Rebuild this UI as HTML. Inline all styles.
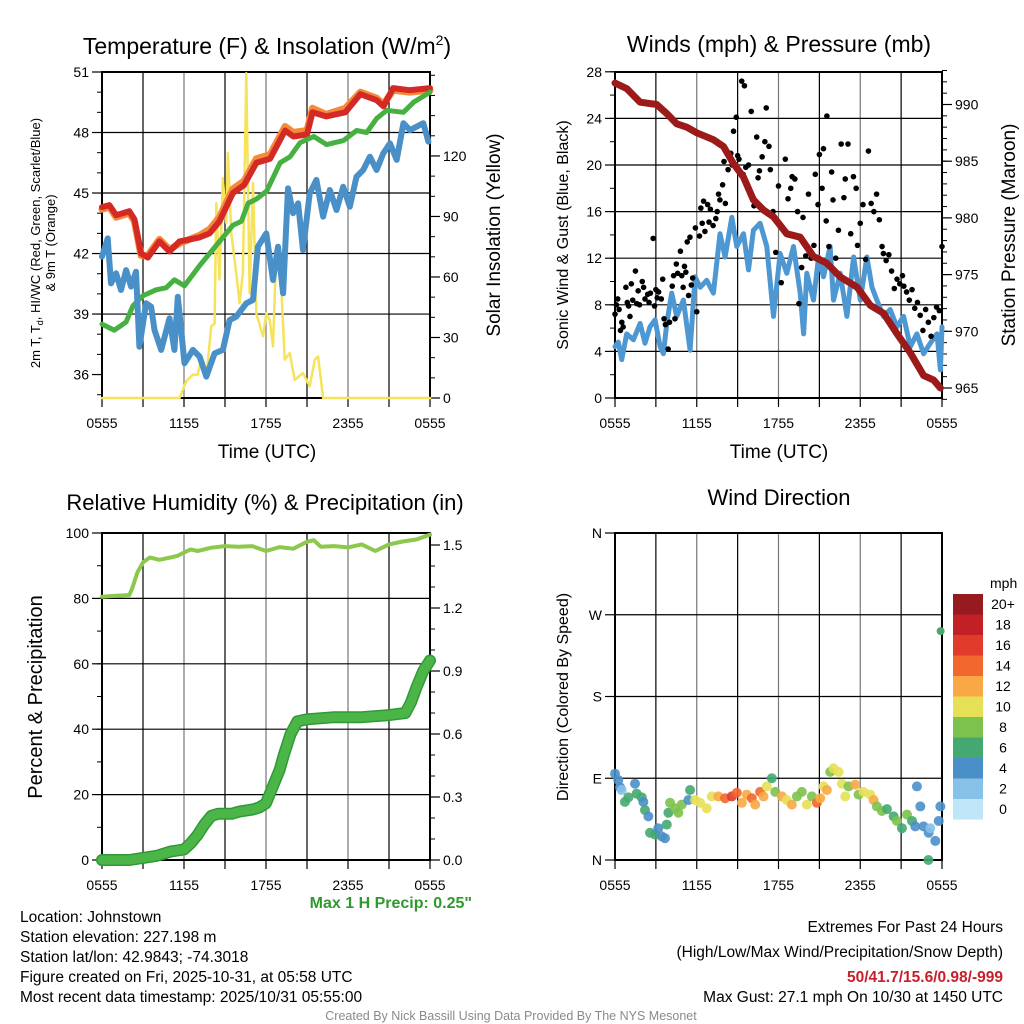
<!DOCTYPE html>
<html><head><meta charset="utf-8">
<style>
html,body{margin:0;padding:0;background:#fff;}
svg{display:block;font-family:"Liberation Sans",Arial,sans-serif;}
</style></head>
<body>
<svg id="fig" width="1024" height="1024" viewBox="0 0 1024 1024" xmlns="http://www.w3.org/2000/svg">
<rect x="0" y="0" width="1024" height="1024" fill="#fff"/>
<!-- titles -->
<text x="267" y="54" font-size="23" text-anchor="middle">Temperature (F) &amp; Insolation (W/m<tspan font-size="14" dy="-9">2</tspan><tspan dy="9">)</tspan></text>
<text x="779" y="52" font-size="23" text-anchor="middle">Winds (mph) &amp; Pressure (mb)</text>
<text x="265" y="510" font-size="22" text-anchor="middle">Relative Humidity (%) &amp; Precipitation (in)</text>
<text x="779" y="505" font-size="22" text-anchor="middle">Wind Direction</text>
<!-- axis titles -->
<text x="267" y="458" font-size="19" text-anchor="middle">Time (UTC)</text>
<text x="779" y="458" font-size="19" text-anchor="middle">Time (UTC)</text>
<text transform="translate(40,243) rotate(-90)" font-size="13" text-anchor="middle"><tspan x="0" y="0">2m T, T<tspan font-size="9" dy="3">d</tspan><tspan dy="-3">, HI/WC (Red, Green, Scarlet/Blue)</tspan></tspan><tspan x="0" y="15">&amp; 9m T (Orange)</tspan></text>
<text transform="translate(500,235) rotate(-90)" font-size="19" text-anchor="middle">Solar Insolation (Yellow)</text>
<text transform="translate(568,235) rotate(-90)" font-size="16" text-anchor="middle">Sonic Wind &amp; Gust (Blue, Black)</text>
<text transform="translate(1015,235) rotate(-90)" font-size="19" text-anchor="middle">Station Pressure (Maroon)</text>
<text transform="translate(42,697) rotate(-90)" font-size="20" text-anchor="middle">Percent &amp; Precipitation</text>
<text transform="translate(568,697) rotate(-90)" font-size="16" text-anchor="middle">Direction (Colored By Speed)</text>
<!-- info text -->
<text x="472" y="908" font-size="16" font-weight="bold" fill="#2e9a2e" text-anchor="end">Max 1 H Precip: 0.25"</text>
<g font-size="15.5">
<text x="20" y="922">Location: Johnstown</text>
<text x="20" y="942">Station elevation: 227.198 m</text>
<text x="20" y="962">Station lat/lon: 42.9843; -74.3018</text>
<text x="20" y="982">Figure created on Fri, 2025-10-31, at 05:58 UTC</text>
<text x="20" y="1002">Most recent data timestamp: 2025/10/31 05:55:00</text>
</g>
<g font-size="15.5" text-anchor="end">
<text x="1003" y="932">Extremes For Past 24 Hours</text>
<text x="1003" y="957">(High/Low/Max Wind/Precipitation/Snow Depth)</text>
<text x="1003" y="982" font-weight="bold" fill="#c8202a">50/41.7/15.6/0.98/-999</text>
<text x="1003" y="1002">Max Gust: 27.1 mph On 10/30 at 1450 UTC</text>
</g>
<text x="511" y="1020" font-size="12.5" fill="#8a8a8a" text-anchor="middle">Created By Nick Bassill Using Data Provided By The NYS Mesonet</text>
<text x="990" y="588" font-size="14" text-anchor="start">mph</text>
</svg>
<script>
// ---------- DATA ----------
const xTickLabels = ["0555","1155","1755","2355","0555"];
// Panel 1: temperature
const tempTimes = [0,0.54,1.03,2.0,2.37,2.86,3.35,4.2,4.94,5.67,7.14,7.87,8.6,9.58,10.4,11.3,12.3,13.4,14.0,15.0,15.4,16.4,17.8,18.9,20.1,20.6,21.3,22.5,24];
const tempValues = [44.3,44.4,43.9,44.1,43.7,42.0,41.8,42.6,42.1,42.6,42.8,43.0,43.6,45.0,45.4,46.5,46.7,48.1,47.8,47.9,49.0,48.8,49.0,49.9,49.6,49.3,50.2,50.1,50.2];
const temp9mValues = [44.2,44.3,43.8,44.0,43.6,41.9,41.9,42.7,42.2,42.5,42.9,43.2,43.8,45.2,45.6,46.7,46.9,48.3,48.0,48.1,49.2,48.9,49.2,50.0,49.7,49.4,50.1,50.0,50.1];
const dewTimes = [0,0.9,1.76,2.25,2.98,3.96,4.69,5.3,6.04,7.14,7.87,8.85,9.58,10.2,10.7,11.3,12.05,13.03,13.76,14.5,15.5,16.44,17.66,18.63,19.37,20.1,20.84,22.05,22.79,24];
const dewValues = [38.5,38.2,38.6,39.4,39.9,40.2,40.3,40.7,40.4,41.4,42.0,42.8,43.4,43.6,44.5,44.7,45.1,46.5,46.8,47.5,47.8,47.4,47.6,48.1,48.0,48.7,49.1,49.0,49.5,50.0];
const chillTimes = [0,0.42,0.66,1.03,1.39,1.76,2.13,2.49,2.74,3.23,3.59,3.84,4.33,4.94,5.30,5.55,6.04,6.65,7.14,7.63,8.24,8.85,9.34,9.82,10.56,11.05,11.41,12.02,12.51,12.88,13.25,13.61,13.98,14.35,14.71,15.2,15.69,16.18,16.67,17.16,17.65,18.13,18.62,19.11,19.6,20.09,20.58,21.07,21.56,22.05,22.53,23.02,23.51,23.88];
const chillValues = [41.85,42.75,40.52,41.02,40.19,41.18,40.36,41.1,37.38,39.53,39.37,38.21,37.22,38.79,37.22,39.86,36.56,37.22,36.89,35.9,37.05,37.22,38.7,38.87,39.53,39.7,42.34,43.0,40.69,42.34,40.03,45.23,44.0,44.49,42.17,44.98,45.65,43.83,45.15,44.16,45.31,44.32,45.81,46.14,46.8,46.14,46.97,47.46,46.64,48.46,48.12,48.29,48.46,47.55];
const solarTimes = [0,5.67,6.16,6.65,7.01,7.26,7.63,7.99,8.24,8.36,8.6,8.85,9.09,9.21,9.46,9.82,10.07,10.31,10.56,10.8,11.05,11.29,11.78,12.02,12.27,12.51,12.76,13.12,13.37,13.74,14.1,14.71,15.2,15.57,15.81,16.18,24];
const solarValues = [0,0,8.3,11.6,11.6,19.8,9.9,35.5,37,96.7,58.7,109,86.8,121.5,81.8,62,47,62,161,52,106.6,42,30.6,42,38.8,25.6,75,55,19,22.3,9,12.4,5.8,19,20.6,0,0];
// Panel 2: winds & pressure
const presTimes = [0,0.86,1.84,3.06,3.8,4.53,5.27,6.0,7.22,7.96,8.69,9.43,10.16,10.9,11.63,12.61,13.59,14.57,15.55,16.53,17.76,18.73,19.71,20.69,21.67,22.65,23.39,23.88];
const presValues = [991.9,991.4,990.2,990.0,989.2,988.3,988.0,987.5,986.9,986.3,984.8,983.6,981.6,980.7,980.1,978.6,978.3,976.6,976.0,974.8,973.9,972.3,971.6,969.8,968.1,966.1,965.7,965.0];
const windTimes = [0,0.24,0.49,0.86,1.35,1.84,2.2,2.57,2.94,3.31,3.55,3.8,4.16,4.53,5.02,5.51,5.88,6.25,6.73,7.22,7.71,8.08,8.57,8.94,9.43,9.8,10.16,10.65,11.14,11.63,12.12,12.61,13.1,13.59,13.84,14.08,14.57,14.94,15.3,15.79,16.04,16.53,17.02,17.51,18.0,18.49,18.86,19.22,19.71,20.2,20.69,21.18,21.67,22.16,22.65,23.14,23.63,23.88,24];
const windValues = [4.4,4.8,3.3,5.5,5.0,6.4,4.7,6.1,6.7,4.4,3.8,6.4,9.0,7.0,8.4,4.1,10.4,9.5,10.1,9.0,14.1,12.1,15.5,13.0,14.1,11.0,14.4,15.0,13.0,7.0,12.4,10.7,13.0,9.0,5.5,10.7,8.4,12.1,10.4,13.0,8.4,10.7,7.0,12.1,8.4,12.1,9.5,8.4,7.0,7.6,6.1,7.0,4.4,5.5,3.8,4.7,5.5,2.4,6.1];
const gustTimes = [0,0.1,0.2,0.3,0.4,0.5,0.6,0.8,0.9,1.0,1.1,1.2,1.3,1.5,1.6,1.7,1.8,2.0,2.1,2.2,2.4,2.5,2.6,2.8,2.9,3.0,3.1,3.2,3.4,3.5,3.6,3.7,3.9,4.0,4.2,4.3,4.4,4.5,4.6,4.8,4.9,5.0,5.1,5.2,5.3,5.4,5.5,5.6,5.7,5.9,6.0,6.2,6.3,6.4,6.5,6.6,6.8,6.9,7.0,7.2,7.4,7.5,7.6,7.7,7.9,8.0,8.1,8.3,8.5,8.6,8.7,8.9,9.0,9.1,9.3,9.4,9.5,9.6,9.8,10.0,10.2,10.4,10.5,10.6,10.8,11.0,11.1,11.3,11.4,11.6,11.8,12.0,12.2,12.5,12.7,12.9,13.0,13.2,13.4,13.5,13.7,13.8,14.0,14.2,14.4,14.6,14.7,14.9,15.0,15.2,15.3,15.5,15.55,15.7,15.9,16.0,16.2,16.4,16.6,16.8,16.9,17.1,17.3,17.5,17.7,17.8,18.0,18.2,18.4,18.6,18.8,19.0,19.2,19.4,19.6,19.7,19.9,20.1,20.3,20.5,20.7,20.9,21.1,21.2,21.4,21.6,21.8,22.0,22.2,22.4,22.6,22.8,23.0,23.2,23.4,23.6,23.8,24.0];
const gustValues = [7.2,8.0,8.5,7.6,5.8,6.5,6.1,9.5,8.2,7.9,7.0,9.8,8.4,10.9,8.1,9.2,8.0,10.0,9.5,8.5,8.9,8.2,9.0,13.7,7.9,9.3,8.6,9.1,8.5,10.2,6.8,6.3,4.2,6.5,9.6,10.5,6.8,11.5,10.7,12.6,10.5,9.5,11.3,10.8,13.4,8.8,13.8,9.7,10.3,14.6,7.4,13.9,16.3,15.0,16.9,14.3,16.6,15.1,16.2,14.8,15.4,16.0,17.5,17.0,18.3,20.3,16.7,19.6,21.0,20.0,22.9,24.1,20.8,20.5,27.2,19.2,26.8,19.8,20.0,24.6,16.5,22.4,18.9,19.5,20.7,22.0,24.9,21.6,19.6,16.0,12.5,18.2,9.9,20.5,17.1,18.0,19.0,18.8,16.0,8.1,11.2,15.5,12.2,17.5,12.0,13.1,19.2,16.6,20.9,18.0,21.4,15.2,24.2,13.0,19.4,17.0,12.0,14.4,21.8,17.2,18.8,21.8,14.1,19.0,18.0,13.1,15.0,16.6,11.9,21.2,16.7,16.0,17.5,15.3,13.0,12.4,11.8,12.3,10.9,9.4,10.2,9.8,10.5,9.6,9.1,8.4,9.3,7.7,8.2,7.1,5.8,7.6,6.5,5.3,6.9,7.8,7.5,13.0];
// Panel 3: humidity & precip
const rhTimes = [0,1.0,2.0,2.2,2.6,3.0,3.5,4.2,5,5.5,6,6.5,7,8,9,10,11,12,13,14,15,15.5,16,17,18,19,20,21,22,23,24];
const rhValues = [80.5,80.8,81,83,88,91,92.5,91.8,92.5,93,94,95,94.5,95.5,96,95.8,96,94.5,95.7,95.2,97.3,97.8,95.8,96,95.6,96.5,94.5,96.5,97.4,98,99.5];
const precipTimes = [0,2,3,4,5,6,6.5,7,7.5,8,8.5,9.5,10,11,11.5,12,12.5,13,13.3,13.8,14.3,15,17,19,21,22.2,22.6,23,23.5,24];
const precipValues = [0,0,0.01,0.02,0.04,0.05,0.08,0.12,0.17,0.21,0.22,0.22,0.23,0.24,0.25,0.27,0.35,0.43,0.5,0.6,0.66,0.67,0.68,0.68,0.69,0.70,0.75,0.82,0.9,0.95];
// Panel 4: wind direction
const dirTimes = [0,0.24,0.37,0.49,0.73,0.98,1.47,1.59,1.96,2.08,2.20,2.45,2.57,2.94,3.18,3.43,3.67,3.80,3.92,4.04,4.41,4.65,4.90,5.39,5.51,5.88,6.25,6.73,7.10,7.59,8.08,8.57,8.94,9.31,9.67,10.04,10.29,10.65,10.90,11.14,11.51,11.76,12.25,12.61,12.98,13.35,13.71,14.08,14.45,14.82,15.06,15.31,15.55,15.80,16.04,16.41,16.65,16.90,17.14,17.63,17.88,18.24,18.73,18.98,19.22,19.59,19.96,20.45,20.69,21.06,21.43,21.80,22.04,22.16,22.41,22.65,23.02,23.14,23.51,23.76,23.88,23.0];
const dirValues = [95,88,80,77,64,69,84,73,69,64,55,48,30,28,35,26,24,39,52,63,57,52,61,66,77,66,63,57,70,70,68,70,74,63,72,68,61,75,70,81,90,75,70,66,61,70,75,61,70,63,68,81,77,97,101,97,84,70,81,83,72,75,72,66,59,54,56,48,43,35,50,43,37,81,59,37,30,35,21,43,59,0];
const dirSpeeds = [4.5,4.5,4.5,3,6.5,6.5,4.5,6.5,6.5,4.5,6.5,4.5,6.5,6.5,4.5,4.5,4.5,6.5,6.5,8.5,8.5,8.5,8.5,4.5,6.5,10.5,10.5,10.5,10.5,12.5,14.5,16.5,14.5,12.5,12.5,14.5,12.5,14.5,12.5,10.5,6.5,8.5,12.5,10.5,12.5,8.5,8.5,10.5,8.5,14.5,12.5,10.5,12.5,8.5,10.5,10.5,10.5,10.5,8.5,12.5,8.5,10.5,10.5,12.5,8.5,8.5,6.5,6.5,8.5,6.5,8.5,6.5,4.5,4.5,4.5,4.5,4.5,3,4.5,4.5,4.5,6.5];
const dirExtraTimes = [23.9];
const dirExtraValues = [252];
const dirExtraSpeeds = [6.5];
const barLabels = ["0","2","4","6","8","10","12","14","16","18","20+"];
const barColors = ["#bfe6f8","#86c1e8","#4b8fc8","#45a870","#7dc24c","#e6e056","#f8a845","#f2672e","#e03b2b","#c21f27","#971a1e"];

// ---------- DRAW ----------
const NS = "http://www.w3.org/2000/svg";
const svg = document.getElementById("fig");
function mk(parent, tag, attrs, name) {
  const el = document.createElementNS(NS, tag);
  for (const k in attrs) el.setAttribute(k, attrs[k]);
  
  
  parent.appendChild(el);
  return el;
}
function group(name){ return mk(svg, "g", {}, name); }

function panel(p) {
  const g = group(p.name + "-frame");
  const X = t => p.x0 + t / 24 * (p.x1 - p.x0);
  for (let h = 3; h < 24; h += 3) {
    mk(g, "line", {x1:X(h), x2:X(h), y1:p.y0, y2:p.y1, stroke:(h%6===0?"#777":"#000"), "stroke-width":1.2}, "v-gridline");
  }
  p.grid.forEach(v => {
    mk(g, "line", {x1:p.x0, x2:p.x1, y1:p.L(v), y2:p.L(v), stroke:"#000", "stroke-width":1.2}, "h-gridline");
  });
  for (let h = 0; h <= 24; h += 3) {
    mk(g, "line", {x1:X(h), x2:X(h), y1:p.y1, y2:p.y1+9, stroke:"#000", "stroke-width":1.2}, "x-tick");
  }
  xTickLabels.forEach((s, i) => {
    const t = mk(g, "text", {x:X(i*6), y:p.y1+30, "font-size":14, "text-anchor":"middle"}, "x-tick-label");
    t.textContent = s;
  });
  p.lmajor.forEach((v, i) => {
    mk(g, "line", {x1:p.x0-10, x2:p.x0, y1:p.L(v), y2:p.L(v), stroke:"#000", "stroke-width":1.2}, "left-major-tick");
    const t = mk(g, "text", {x:p.x0-13, y:p.L(v)+5, "font-size":14, "text-anchor":"end"}, "left-tick-label");
    t.textContent = p.llab[i];
  });
  (p.lminor||[]).forEach(v => mk(g, "line", {x1:p.x0-5, x2:p.x0, y1:p.L(v), y2:p.L(v), stroke:"#000"}, "left-minor-tick"));
  if (p.R) {
    p.rmajor.forEach((v, i) => {
      mk(g, "line", {x1:p.x1, x2:p.x1+10, y1:p.R(v), y2:p.R(v), stroke:"#000", "stroke-width":1.2}, "right-major-tick");
      const t = mk(g, "text", {x:p.x1+13, y:p.R(v)+5, "font-size":14}, "right-tick-label");
      t.textContent = p.rlab[i];
    });
    (p.rminor||[]).forEach(v => mk(g, "line", {x1:p.x1, x2:p.x1+5, y1:p.R(v), y2:p.R(v), stroke:"#000"}, "right-minor-tick"));
  }
  mk(g, "rect", {x:p.x0, y:p.y0, width:p.x1-p.x0, height:p.y1-p.y0, fill:"none", stroke:"#000", "stroke-width":2}, "plot-border");
  return X;
}
function line(X, Y, ts, vs, color, w, name, cap) {
  const pts = ts.map((t, i) => X(t).toFixed(1) + "," + Y(vs[i]).toFixed(1)).join(" ");
  return mk(svg, "polyline", {points:pts, fill:"none", stroke:color, "stroke-width":w, "stroke-linejoin":"round", "stroke-linecap":cap||"round"}, name);
}
function range(a, b, s){ const r=[]; for(let v=a; v<=b+1e-9; v+=s) r.push(+v.toFixed(3)); return r; }

// Panel 1
const P1 = {name:"temperature-panel", x0:102, x1:430, y0:72, y1:398,
  L: v => 72 + (51 - v) * 20.17, R: v => 398 - v * 2.017,
  grid:[39,42,45,48], lmajor:[36,39,42,45,48,51], llab:["36","39","42","45","48","51"],
  lminor: range(35,51,1), rmajor:[0,30,60,90,120], rlab:["0","30","60","90","120"], rminor: range(0,160,10)};
const X1 = panel(P1);
line(X1, P1.R, solarTimes, solarValues, "#f7e35a", 2.5, "solar-insolation-line");
line(X1, P1.L, tempTimes, temp9mValues, "#f58a3a", 7, "temp-9m-line");
line(X1, P1.L, tempTimes, tempValues, "#d42a26", 6, "temp-2m-line");
line(X1, P1.L, dewTimes, dewValues, "#46b040", 5, "dewpoint-line");
line(X1, P1.L, chillTimes, chillValues, "#4a90c8", 6, "windchill-line");

// Panel 2
const P2 = {name:"winds-panel", x0:615, x1:942, y0:72, y1:398,
  L: v => 398 - v * 11.65, R: v => 388 - (v - 965) * 11.34,
  grid:[4,8,12,16,20,24], lmajor:[0,4,8,12,16,20,24,28], llab:["0","4","8","12","16","20","24","28"],
  lminor: range(0,28,2), rmajor:[965,970,975,980,985,990], rlab:["965","970","975","980","985","990"], rminor: range(964,993,1)};
const X2 = panel(P2);
line(X2, P2.L, windTimes, windValues, "#4d97d2", 5, "sonic-wind-line");
const gustG = group("gust-points");
gustTimes.forEach((t, i) => {
  mk(gustG, "circle", {cx:X2(t), cy:P2.L(gustValues[i]), r:2.8, fill:"#000"}, "gust-point");
});
line(X2, P2.R, presTimes, presValues, "#9c1a1a", 7, "pressure-line");

// Panel 3
const P3 = {name:"humidity-panel", x0:102, x1:430, y0:533, y1:860,
  L: v => 860 - v * 3.27, R: v => 860 - v * 210,
  grid:[20,40,60,80], lmajor:[0,20,40,60,80,100], llab:["0","20","40","60","80","100"],
  lminor: range(0,100,10), rmajor:[0,0.3,0.6,0.9,1.2,1.5], rlab:["0.0","0.3","0.6","0.9","1.2","1.5"], rminor: range(0,1.5,0.1)};
const X3 = panel(P3);
line(X3, P3.L, rhTimes, rhValues, "#8cc84b", 4, "relative-humidity-line");
line(X3, P3.R, precipTimes, precipValues, "#2f9a34", 12, "precip-outline");
line(X3, P3.R, precipTimes, precipValues, "#4cb548", 9, "precipitation-line");

// Panel 4
const P4 = {name:"direction-panel", x0:615, x1:942, y0:533, y1:860,
  L: v => 860 - v * 0.9083, grid:[90,180,270], lmajor:[0,90,180,270,360], llab:["N","E","S","W","N"], lminor:[]};
const X4 = panel(P4);
function spdColor(s){ return barColors[Math.min(10, Math.floor(s/2))]; }
const dirG = group("direction-points");
dirTimes.forEach((t, i) => {
  mk(dirG, "circle", {cx:X4(t), cy:P4.L(dirValues[i]), r:5, fill:spdColor(dirSpeeds[i]), "fill-opacity":0.9}, "direction-point");
});
dirExtraTimes.forEach((t, i) => {
  mk(dirG, "circle", {cx:X4(t), cy:P4.L(dirExtraValues[i]), r:4, fill:spdColor(dirExtraSpeeds[i])}, "direction-point");
});
const cb = group("speed-colorbar");
barColors.forEach((c, i) => {
  const top = 594 + (10 - i) * 20.5;
  mk(cb, "rect", {x:953, y:top, width:30, height:20.5, fill:c}, "colorbar-box");
  const t = mk(cb, "text", {x:1003, y:top+15, "font-size":14, "text-anchor":"middle"}, "colorbar-label");
  t.textContent = barLabels[i];
});
</script>
</body></html>
